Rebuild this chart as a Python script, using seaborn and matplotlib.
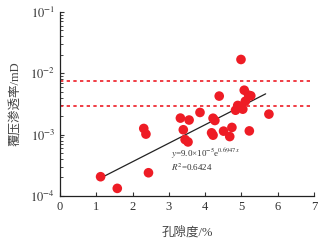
import numpy as np
import pandas as pd
import matplotlib
matplotlib.use("Agg")
import matplotlib.pyplot as plt
import seaborn as sns

# ========== data ==========
porosity = [1.12, 1.58, 2.44, 2.31, 2.37, 3.32, 3.40, 3.45, 3.53, 3.56,
            3.86, 4.22, 4.27, 4.18, 4.22, 4.39, 4.51, 4.68, 4.74, 4.84,
            4.90, 4.99, 5.04, 5.08, 5.11, 5.20, 5.26, 5.22, 5.76, 4.95]
perm = [2.06e-4, 1.33e-4, 2.39e-4, 1.26e-3, 1.02e-3, 1.86e-3, 1.20e-3, 8.3e-4, 7.6e-4, 1.73e-3,
        2.30e-3, 1.85e-3, 1.70e-3, 1.07e-3, 9.8e-4, 4.25e-3, 1.14e-3, 9.3e-4, 1.31e-3, 2.50e-3,
        2.99e-3, 1.68e-2, 2.60e-3, 5.30e-3, 3.50e-3, 4.40e-3, 4.30e-3, 1.15e-3, 2.16e-3, 2.90e-3]

# exponential fit y = a * exp(b * x)
fit_a = 9.0e-5
fit_b = 0.6947
fit_r2 = 0.6424
fit_x = [1.19, 5.67]

# horizontal reference lines
ref_levels = [7.5e-3, 2.9e-3]

df = pd.DataFrame({"x": porosity, "y": perm})
fit_df = pd.DataFrame({"x": fit_x})
fit_df["y"] = fit_a * np.exp(fit_b * fit_df["x"])

# ========== style ==========
sns.set_style("ticks")
plt.rcParams["font.family"] = ["Liberation Serif", "Noto Sans CJK SC"]
plt.rcParams["mathtext.fontset"] = "stix"
plt.rcParams["xtick.direction"] = "in"
plt.rcParams["ytick.direction"] = "in"

fig = plt.figure(figsize=(3.35, 2.49), dpi=100)
ax = fig.add_axes([0.179, 0.213, 0.758, 0.739])

red = "#ee1c25"
sns.scatterplot(data=df, x="x", y="y", ax=ax, color=red, s=48,
                edgecolor="none", zorder=3)
sns.lineplot(data=fit_df, x="x", y="y", ax=ax, color="#222222",
             linewidth=0.9, zorder=2)
for lv in ref_levels:
    ax.hlines(lv, 0, 6.9, colors=red, linestyles=(0, (2, 2)), linewidth=1.2)

ax.set_yscale("log")
ax.set_xlim(0, 7)
ax.set_ylim(1e-4, 1e-1)
ax.set_xticks(range(0, 8))
ax.set_yticks([1e-4, 1e-3, 1e-2, 1e-1])
ax.set_yticklabels([r"$10^{-4}$", r"$10^{-3}$", r"$10^{-2}$", r"$10^{-1}$"])
ax.tick_params(axis="both", labelsize=9, colors="#333333", length=3, width=0.8)
ax.tick_params(axis="y", which="minor", length=2, width=0.6)
sns.despine(ax=ax)
for sp in ["left", "bottom"]:
    ax.spines[sp].set_linewidth(0.9)
    ax.spines[sp].set_color("#222222")

ax.set_xlabel("孔隙度/%", fontsize=9, color="#444444", labelpad=10)
ax.set_ylabel("覆压渗透率/mD", fontsize=9, color="#444444", labelpad=6)

ax.text(3.05, 4.9e-4, r"$y$=9.0×10$^{-5}$e$^{0.6947x}$", fontsize=6.5,
        color="#333333", va="center")
ax.text(3.05, 2.95e-4, r"$R^2$=%.4f" % fit_r2, fontsize=6.5,
        color="#333333", va="center")

fig.savefig("out.png", dpi=100)
